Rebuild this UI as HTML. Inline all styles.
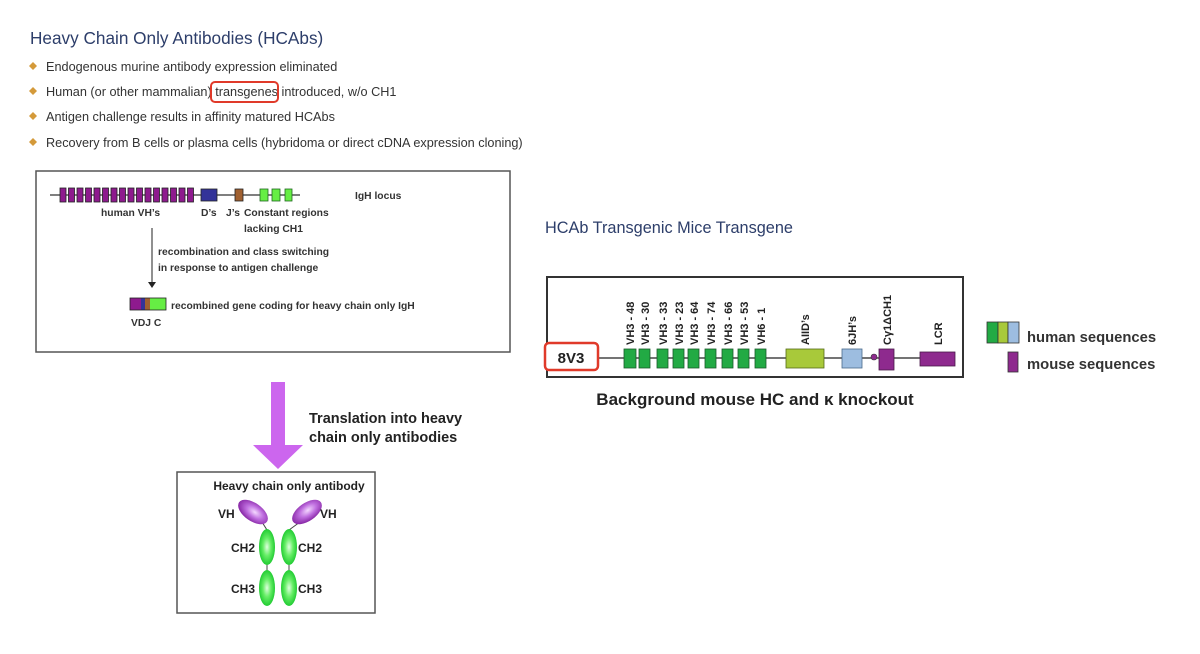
<!DOCTYPE html>
<html><head><meta charset="utf-8"><style>
body{margin:0;background:#fff;width:1200px;height:654px;overflow:hidden}
svg{display:block}
text{font-family:"Liberation Sans",sans-serif}
</style></head><body>
<svg width="1200" height="654" viewBox="0 0 1200 654" xmlns="http://www.w3.org/2000/svg">
<defs>
<radialGradient id="gg" cx="50%" cy="50%" r="50%"><stop offset="0" stop-color="#dfffdf"/><stop offset="0.5" stop-color="#66ee66"/><stop offset="1" stop-color="#22cc33"/></radialGradient>
<radialGradient id="pg" cx="55%" cy="45%" r="55%"><stop offset="0" stop-color="#f4d8ff"/><stop offset="0.5" stop-color="#c070e0"/><stop offset="1" stop-color="#8a2aa8"/></radialGradient>
</defs>
<text x="30" y="44" font-size="17.2" fill="#2d3e6a">Heavy Chain Only Antibodies (HCAbs)</text>
<g fill="#d49a3a">
<path d="M33 62l4 4-4 4-4-4z"/><path d="M33 87l4 4-4 4-4-4z"/><path d="M33 112l4 4-4 4-4-4z"/><path d="M33 138l4 4-4 4-4-4z"/>
</g>
<g font-size="12.7" fill="#333">
<text x="46" y="71">Endogenous murine antibody expression eliminated</text>
<text x="46" y="96">Human (or other mammalian) transgenes introduced, w/o CH1</text>
<text x="46" y="121">Antigen challenge results in affinity matured HCAbs</text>
<text x="46" y="147">Recovery from B cells or plasma cells (hybridoma or direct cDNA expression cloning)</text>
</g>
<rect x="211" y="82" width="67" height="20" rx="4" fill="none" stroke="#e03a2a" stroke-width="2"/>

<rect x="36" y="171" width="474" height="181" fill="#fff" stroke="#555" stroke-width="1.5"/>
<line x1="50" y1="195" x2="300" y2="195" stroke="#333" stroke-width="1.2"/>
<g fill="#8e1a8e" stroke="#222" stroke-width="0.8">
<rect x="60" y="188" width="6" height="14"/><rect x="68.5" y="188" width="6" height="14"/><rect x="77" y="188" width="6" height="14"/><rect x="85.5" y="188" width="6" height="14"/><rect x="94" y="188" width="6" height="14"/><rect x="102.5" y="188" width="6" height="14"/><rect x="111" y="188" width="6" height="14"/><rect x="119.5" y="188" width="6" height="14"/><rect x="128" y="188" width="6" height="14"/><rect x="136.5" y="188" width="6" height="14"/><rect x="145" y="188" width="6" height="14"/><rect x="153.5" y="188" width="6" height="14"/><rect x="162" y="188" width="6" height="14"/><rect x="170.5" y="188" width="6" height="14"/><rect x="179" y="188" width="6" height="14"/><rect x="187.5" y="188" width="6" height="14"/>
</g>
<rect x="201" y="189" width="16" height="12" fill="#333399" stroke="#222" stroke-width="0.8"/>
<rect x="235" y="189" width="8" height="12" fill="#a06030" stroke="#222" stroke-width="0.8"/>
<g fill="#66ee44" stroke="#226622" stroke-width="0.8">
<rect x="260" y="189" width="8" height="12"/><rect x="272" y="189" width="8" height="12"/><rect x="285" y="189" width="7" height="12"/>
</g>
<g font-size="10.3" font-weight="bold" fill="#333">
<text x="355" y="199">IgH locus</text>
<text x="101" y="216">human VH’s</text>
<text x="201" y="216">D’s</text>
<text x="226" y="216">J’s</text>
<text x="244" y="216">Constant regions</text>
<text x="244" y="232">lacking CH1</text>
<text x="158" y="255">recombination and class switching</text>
<text x="158" y="271">in response to antigen challenge</text>
<text x="171" y="309">recombined gene coding for heavy chain only IgH</text>
<text x="131" y="326">VDJ  C</text>
</g>
<line x1="152" y1="228" x2="152" y2="283" stroke="#222" stroke-width="1"/>
<path d="M148 282h8l-4 6z" fill="#222"/>
<rect x="130" y="298" width="11" height="12" fill="#8e1a8e"/>
<rect x="141" y="298" width="4" height="12" fill="#333399"/>
<rect x="145" y="298" width="5" height="12" fill="#a06030"/>
<rect x="150" y="298" width="16" height="12" fill="#66ee44"/>
<rect x="130" y="298" width="36" height="12" fill="none" stroke="#222" stroke-width="0.8"/>

<path d="M271 382h14v63h18l-25 24-25-24h18z" fill="#cc66ee"/>
<g font-size="14.5" font-weight="bold" fill="#222">
<text x="309" y="423">Translation into heavy</text>
<text x="309" y="442">chain only antibodies</text>
</g>

<rect x="177" y="472" width="198" height="141" fill="#fff" stroke="#555" stroke-width="1.5"/>
<text x="289" y="490" font-size="12" font-weight="bold" fill="#222" text-anchor="middle">Heavy chain only antibody</text>
<line x1="262" y1="522" x2="267" y2="530" stroke="#444" stroke-width="1"/>
<line x1="300" y1="522" x2="289" y2="530" stroke="#444" stroke-width="1"/>
<line x1="267" y1="560" x2="267" y2="572" stroke="#444" stroke-width="1"/>
<line x1="289" y1="560" x2="289" y2="572" stroke="#444" stroke-width="1"/>
<ellipse cx="253" cy="512" rx="17" ry="9" transform="rotate(35 253 512)" fill="url(#pg)"/>
<ellipse cx="307" cy="512" rx="17" ry="9" transform="rotate(-35 307 512)" fill="url(#pg)"/>
<ellipse cx="267" cy="547" rx="8" ry="18" fill="url(#gg)"/>
<ellipse cx="289" cy="547" rx="8" ry="18" fill="url(#gg)"/>
<ellipse cx="267" cy="588" rx="8" ry="18" fill="url(#gg)"/>
<ellipse cx="289" cy="588" rx="8" ry="18" fill="url(#gg)"/>
<g font-size="12" font-weight="bold" fill="#222">
<text x="218" y="518">VH</text><text x="320" y="518">VH</text>
<text x="231" y="552">CH2</text><text x="298" y="552">CH2</text>
<text x="231" y="593">CH3</text><text x="298" y="593">CH3</text>
</g>

<text x="545" y="233" font-size="16.3" fill="#2d3e6a">HCAb Transgenic Mice Transgene</text>
<rect x="547" y="277" width="416" height="100" fill="#fff" stroke="#333" stroke-width="2"/>
<line x1="598" y1="358" x2="955" y2="358" stroke="#222" stroke-width="1.3"/>
<rect x="545" y="343" width="53" height="27" rx="4" fill="#fff" stroke="#e03a2a" stroke-width="2.5"/>
<text x="571" y="363" font-size="15" font-weight="bold" fill="#222" text-anchor="middle">8V3</text>
<g fill="#22aa44" stroke="#1a5a2a" stroke-width="0.8">
<rect x="624" y="349" width="12" height="19"/><rect x="639" y="349" width="11" height="19"/><rect x="657" y="349" width="11" height="19"/><rect x="673" y="349" width="11" height="19"/><rect x="688" y="349" width="11" height="19"/><rect x="705" y="349" width="11" height="19"/><rect x="722" y="349" width="11" height="19"/><rect x="738" y="349" width="11" height="19"/><rect x="755" y="349" width="11" height="19"/>
</g>
<g font-size="11" font-weight="bold" fill="#222">
<text transform="translate(634 345) rotate(-90)">VH3 - 48</text>
<text transform="translate(649 345) rotate(-90)">VH3 - 30</text>
<text transform="translate(667 345) rotate(-90)">VH3 - 33</text>
<text transform="translate(683 345) rotate(-90)">VH3 - 23</text>
<text transform="translate(698 345) rotate(-90)">VH3 - 64</text>
<text transform="translate(715 345) rotate(-90)">VH3 - 74</text>
<text transform="translate(732 345) rotate(-90)">VH3 - 66</text>
<text transform="translate(748 345) rotate(-90)">VH3 - 53</text>
<text transform="translate(765 345) rotate(-90)">VH6 - 1</text>
<text transform="translate(809 345) rotate(-90)">AIID’s</text>
<text transform="translate(856 345) rotate(-90)">6JH’s</text>
<text transform="translate(891 345) rotate(-90)">Cγ1ΔCH1</text>
<text transform="translate(942 345) rotate(-90)">LCR</text>
</g>
<rect x="786" y="349" width="38" height="19" fill="#a8c93a" stroke="#556b1a" stroke-width="0.8"/>
<rect x="842" y="349" width="20" height="19" fill="#9dbde0" stroke="#4a6a8a" stroke-width="0.8"/>
<circle cx="874" cy="357" r="3" fill="#8e2a8e" stroke="#333" stroke-width="0.6"/>
<rect x="879" y="349" width="15" height="21" fill="#8e2a8e" stroke="#4a1a4a" stroke-width="0.8"/>
<rect x="920" y="352" width="35" height="14" fill="#8e2a8e" stroke="#4a1a4a" stroke-width="0.8"/>
<text x="755" y="405" font-size="17" font-weight="bold" fill="#222" text-anchor="middle">Background mouse HC and κ knockout</text>

<rect x="987" y="322" width="11" height="21" fill="#22aa44" stroke="#333" stroke-width="0.8"/>
<rect x="998" y="322" width="10" height="21" fill="#a8c93a" stroke="#333" stroke-width="0.8"/>
<rect x="1008" y="322" width="11" height="21" fill="#9dbde0" stroke="#333" stroke-width="0.8"/>
<rect x="1008" y="352" width="10" height="20" fill="#8e2a8e" stroke="#333" stroke-width="0.8"/>
<g font-size="14.8" font-weight="bold" fill="#333">
<text x="1027" y="342">human sequences</text>
<text x="1027" y="369">mouse sequences</text>
</g>
</svg>
</body></html>
